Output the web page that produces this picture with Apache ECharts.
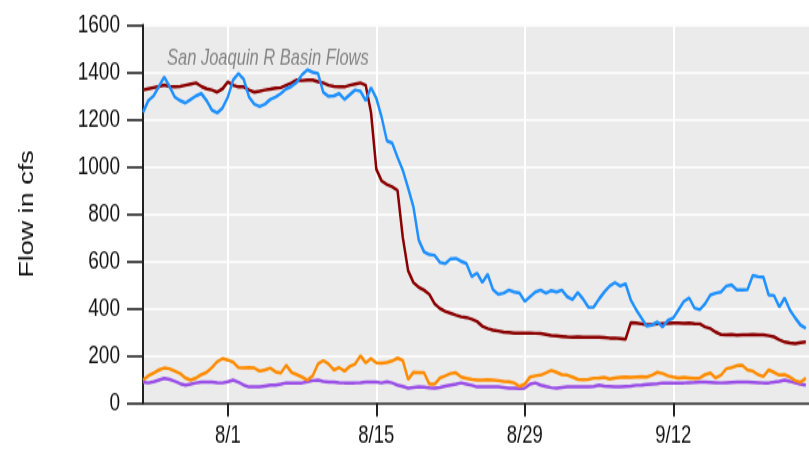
<!DOCTYPE html>
<html>
<head>
<meta charset="utf-8">
<script src="https://cdn.jsdelivr.net/npm/echarts@6/dist/echarts.min.js"></script>
<style>
  html, body { margin: 0; padding: 0; background: #fff; }
  body { width: 809px; height: 455px; }
  /* the source image is stretched vertically, so draw at 337px and stretch */
  #chart { width: 809px; height: 337px; transform: scaleY(1.35); transform-origin: 0 0; }
</style>
</head>
<body>
<div id="chart"></div>
<script>
// x is days since 7/24, one sample every 12 hours
const stepDays = 0.5;
const tickDays = [8, 22, 36, 50];
const tickLabels = ['8/1', '8/15', '8/29', '9/12'];
const yTicks = [0, 200, 400, 600, 800, 1000, 1200, 1400, 1600];

const blueFlow = [
  1230, 1280, 1300, 1340, 1380, 1340, 1295, 1280, 1270, 1285,
  1300, 1310, 1280, 1240, 1228, 1249, 1295, 1367, 1395, 1370,
  1295, 1265, 1255, 1265, 1285, 1295, 1310, 1330, 1340, 1358,
  1390, 1410, 1400, 1395, 1315, 1298, 1300, 1310, 1285, 1305,
  1325, 1320, 1280, 1335, 1290, 1210, 1110, 1100, 1040, 985,
  910, 830, 690, 640, 628, 625, 595, 590, 610, 612,
  600, 590, 535, 550, 510, 545, 480, 460, 465, 478,
  470, 466, 430, 450, 470, 478, 465, 476, 470, 478,
  450, 438, 468, 440, 405, 406, 440, 470, 495, 510,
  495, 505, 436, 395, 360, 325, 330, 343, 322, 350,
  360, 395, 430, 445, 402, 395, 420, 457, 465, 470,
  495, 500, 478, 478, 480, 540, 535, 533, 457, 455,
  406, 445, 394, 360, 330, 317
];
const redFlow = [
  1325, 1330, 1335, 1340, 1346, 1340, 1338, 1340, 1345, 1350,
  1355, 1340, 1330, 1325, 1316, 1330, 1359, 1345, 1338, 1338,
  1325, 1316, 1320, 1325, 1328, 1333, 1335, 1345, 1355, 1367,
  1365, 1367, 1367, 1360, 1355, 1345, 1340, 1338, 1338, 1345,
  1350, 1355, 1345, 1230, 990, 940, 925, 915, 900, 700,
  560, 510, 490, 478, 460, 420, 400, 388, 380, 372,
  365, 362, 355, 345, 325, 315, 309, 305, 300, 298,
  296, 296, 296, 296, 295, 294, 290, 286, 284, 282,
  280, 279, 280, 278, 279, 279, 278, 277, 275, 275,
  273, 270, 340, 338, 335, 332, 333, 335, 336, 337,
  338, 338, 337, 338, 336, 335, 322, 315, 300, 290,
  288, 290, 287, 288, 288, 290, 288, 289, 285, 280,
  268, 258, 254, 252, 256, 258
];
const orangeFlow = [
  97, 115, 127, 140, 148, 145, 135, 125, 106, 97,
  106, 120, 130, 150, 175, 188, 182, 173, 150, 148,
  150, 148, 135, 140, 148, 132, 127, 160, 130, 120,
  110, 97, 115, 165, 180, 165, 140, 150, 135, 155,
  165, 200, 170, 188, 170, 168, 172, 178, 190, 180,
  100, 130, 128, 128, 80, 80, 106, 115, 125, 128,
  110, 104, 100, 97, 97, 98, 97, 95, 92, 90,
  85, 70, 80, 110, 115, 118, 128, 138, 130, 120,
  118, 110, 100, 98, 100, 105, 106, 108, 102, 106,
  108, 110, 108, 110, 112, 110, 118, 130, 125, 115,
  110, 106, 108, 106, 104, 106, 120, 127, 106, 118,
  145, 150, 158, 160, 140, 135, 120, 112, 140, 130,
  118, 120, 110, 95, 88, 105
];
const purpleFlow = [
  89, 85, 90, 97, 104, 100, 92, 82, 76, 80,
  85, 88, 89, 88, 86, 85, 90, 97, 88, 76,
  68, 68, 68, 72, 76, 76, 80, 85, 85, 85,
  85, 90, 95, 97, 92, 89, 88, 86, 85, 85,
  85, 86, 88, 89, 88, 85, 90, 85, 76, 70,
  63, 66, 68, 67, 64, 63, 66, 72, 76, 80,
  85, 80, 75, 68, 68, 68, 68, 68, 66, 63,
  63, 62, 63, 80, 85, 76, 70, 65, 63, 66,
  68, 68, 68, 68, 68, 70, 76, 72, 70, 68,
  68, 70, 72, 75, 76, 78, 80, 82, 85, 85,
  85, 85, 85, 86, 87, 89, 88, 87, 86, 85,
  86, 87, 88, 89, 88, 87, 86, 85, 85, 88,
  92, 97, 92, 85, 80, 76
];

const sans = '"Liberation Sans", Arial, sans-serif';

function toPoints(values) {
  return values.map((v, i) => [i * stepDays, v]);
}

function lineSeries(values, color) {
  return {
    type: 'line',
    data: toPoints(values),
    showSymbol: false,
    symbol: 'none',
    lineStyle: { color: color, width: 2.5 },
    emphasis: { disabled: true }
  };
}

function init() {
  const chart = echarts.init(document.getElementById('chart'));

  chart.setOption({
    animation: false,
    backgroundColor: '#fff',
    title: {
      text: 'San Joaquin R Basin Flows',
      left: 162,
      top: 30,
      textStyle: {
        color: '#858585',
        fontFamily: sans,
        fontStyle: 'italic',
        fontWeight: 'normal',
        fontSize: 16.5
      }
    },
    grid: {
      left: 143,
      right: 0,
      top: 18.5,
      bottom: 38.5,
      show: true,
      backgroundColor: '#ebebeb',
      borderWidth: 0
    },
    xAxis: {
      type: 'value',
      min: 0,
      max: 62.8,
      axisLine: { show: true, lineStyle: { color: '#222', width: 1.6 } },
      axisTick: { show: true, length: 10, customValues: tickDays, lineStyle: { color: '#222', width: 2 } },
      axisLabel: {
        customValues: tickDays,
        margin: 15,
        color: '#111',
        fontFamily: sans,
        fontSize: 18.5,
        formatter: function (v) {
          return tickLabels[tickDays.indexOf(v)];
        }
      },
      splitLine: { show: true, lineStyle: { color: '#fff', width: 2 } }
    },
    yAxis: {
      type: 'value',
      min: yTicks[0],
      max: yTicks[yTicks.length - 1],
      interval: 200,
      name: 'Flow in cfs',
      nameLocation: 'middle',
      nameGap: 106,
      nameRotate: 90,
      nameTextStyle: { color: '#111', fontFamily: sans, fontSize: 20 },
      axisLine: { show: true, lineStyle: { color: '#222', width: 2 } },
      axisTick: { show: true, length: 16, lineStyle: { color: '#222', width: 1.6 } },
      axisLabel: {
        margin: 23,
        color: '#111',
        fontFamily: sans,
        fontSize: 19,
        formatter: function (v) { return String(v); }
      },
      splitLine: { show: true, lineStyle: { color: '#fff', width: 1.6 } }
    },
    series: [
      lineSeries(redFlow, '#8b0000'),
      lineSeries(blueFlow, '#1e90ff'),
      lineSeries(purpleFlow, '#9a4fe6'),
      lineSeries(orangeFlow, '#ff8c00')
    ]
  });
}

init();
</script>
</body>
</html>
